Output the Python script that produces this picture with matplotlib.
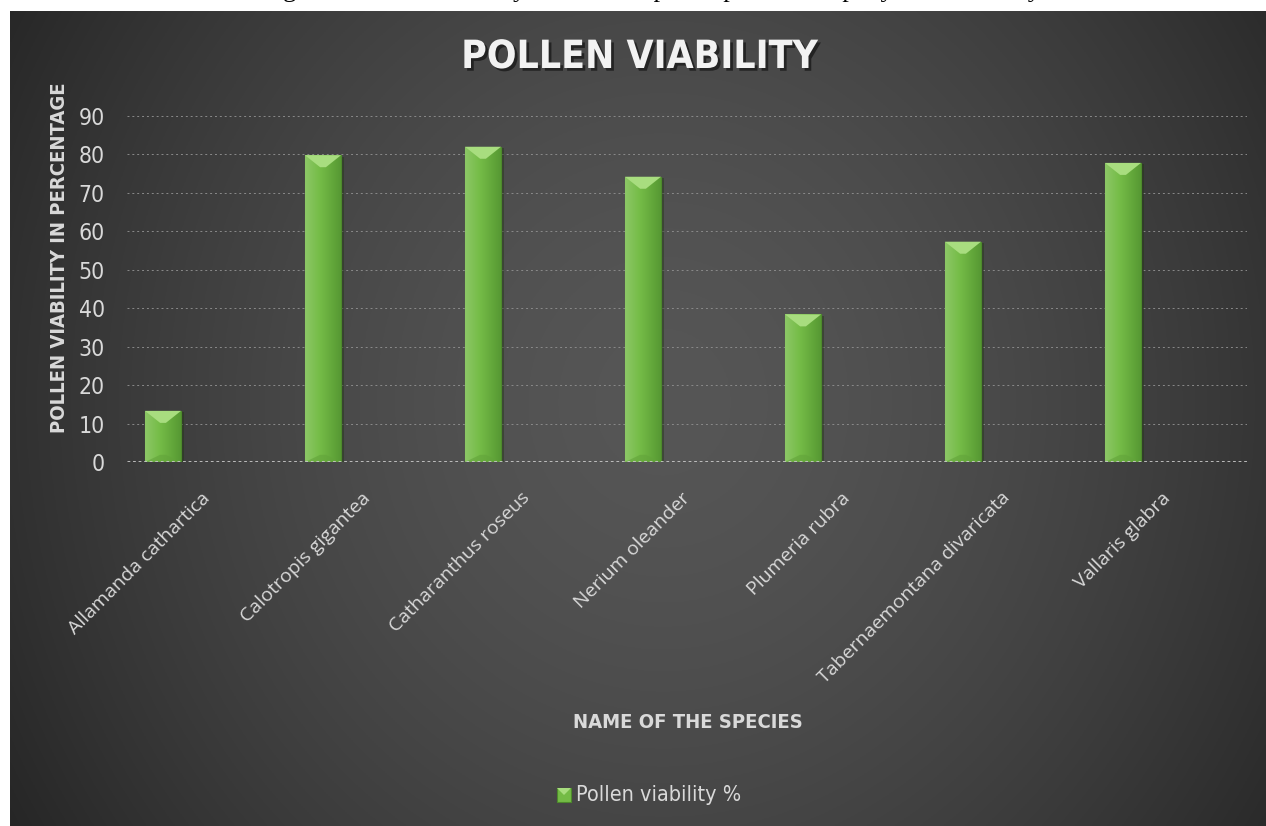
import matplotlib
matplotlib.use('Agg')
import matplotlib.pyplot as plt
import matplotlib.patheffects as pe
from matplotlib import font_manager
from matplotlib.transforms import ScaledTranslation
from matplotlib.patches import Polygon
import numpy as np

species = ['Allamanda cathartica', 'Calotropis gigantea', 'Catharanthus roseus',
           'Nerium oleander', 'Plumeria rubra', 'Tabernaemontana divaricata',
           'Vallaris glabra']
viability = [13.3, 79.8, 82.0, 74.2, 38.4, 57.3, 77.8]
yticks = [0, 10, 20, 30, 40, 50, 60, 70, 80, 90]

title = 'POLLEN VIABILITY'
ylabel = 'POLLEN VIABILITY IN PERCENTAGE'
xlabel = 'NAME OF THE SPECIES'
legend_label = 'Pollen viability %'
caption = 'Figure 2: Pollen viability of selected plant species of Apocynaceae family'

names = {f.name for f in font_manager.fontManager.ttflist}
narrow = 'Liberation Sans Narrow' if 'Liberation Sans Narrow' in names else 'DejaVu Sans'
stretch = 'normal' if narrow == 'Liberation Sans Narrow' else 'condensed'
label_grey = '#d9d9d9'

fig = plt.figure(figsize=(12.66, 8.26), dpi=100, facecolor='white')

# dark panel with radial-ish gradient
bg = fig.add_axes([10 / 1266, 0, 1 - 10 / 1266, 1 - 11 / 826])
bg.set_axis_off()
gx, gy = np.meshgrid(np.linspace(0, 1, 600), np.linspace(0, 1, 400))
d = np.sqrt(((gx - 0.52) / 0.6) ** 2 + ((gy - 0.52) / 1.0) ** 2)
v = np.clip(0x56 - (0x56 - 0x27) * d ** 1.6, 0x25, 0x56) / 255.0
bg.imshow(np.dstack([v, v, v]), extent=[0, 1, 0, 1], aspect='auto', origin='lower')
bg.set_xlim(0, 1)
bg.set_ylim(0, 1)

ax = fig.add_axes([127 / 1266, 1 - 462 / 826, 1120 / 1266, 346 / 826])
ax.patch.set_alpha(0)
for s in ax.spines.values():
    s.set_visible(False)

x = np.arange(len(species))
bars = ax.bar(x, viability, width=0.225, color='#74bb46', edgecolor='#4d8a2b', linewidth=0.8,
              zorder=3, path_effects=[pe.SimplePatchShadow(offset=(2, -1), alpha=0.45), pe.Normal()])

ax.set_xlim(-0.225, 6.775)
ax.set_ylim(0, 90)
ax.set_yticks(yticks)
ax.yaxis.grid(True, color='#8a8a8a', linestyle=(0, (2, 3)), linewidth=0.7, zorder=0)
ax.set_axisbelow(True)
ax.axhline(0, color='#c8c8c8', linestyle=(0, (1, 1)), linewidth=2, zorder=4)

# gradient fill + top bevel per bar
px_per_unit = ax.transData.transform((0, 1))[1] - ax.transData.transform((0, 0))[1]
grad = np.linspace(0, 1, 50)
left = np.array([0.55, 0.78, 0.40])
mid = np.array([0.46, 0.74, 0.28])
right = np.array([0.34, 0.60, 0.20])
cols = np.where(grad[:, None] < 0.4,
                left + (mid - left) * (grad[:, None] / 0.4),
                mid + (right - mid) * ((grad[:, None] - 0.4) / 0.6))
img = np.repeat(cols[None, :, :], 2, axis=0)
for b in bars:
    bx, bw, bh = b.get_x(), b.get_width(), b.get_height()
    im = ax.imshow(img, extent=[bx, bx + bw, 0, bh], aspect='auto', zorder=3.5, origin='lower')
    im.set_clip_path(b)
    depth = 12 / px_per_unit
    ins = bw * 0.42
    ax.add_patch(Polygon([[bx, bh], [bx + bw, bh], [bx + bw - ins, bh - depth], [bx + ins, bh - depth]],
                         closed=True, facecolor='#a8dd7f', edgecolor='none', zorder=3.6))
    ax.add_patch(Polygon([[bx, 0], [bx + bw, 0], [bx + bw - ins, depth * 0.6], [bx + ins, depth * 0.6]],
                         closed=True, facecolor='#62a33a', edgecolor='none', alpha=0.6, zorder=3.6))

ax.tick_params(axis='both', length=0)
ax.tick_params(axis='y', pad=16, labelcolor=label_grey)
for t in ax.get_yticklabels():
    t.set_fontfamily(narrow)
    t.set_fontstretch(stretch)
    t.set_fontsize(16.5)

ax.set_xticks(x)
ax.set_xticklabels(species, rotation=45, ha='right', va='top', rotation_mode='anchor',
                   fontfamily='Open Sans', fontsize=14, color=label_grey)
off = ScaledTranslation(38 / 100, -22 / 100, fig.dpi_scale_trans)
for t in ax.get_xticklabels():
    t.set_transform(t.get_transform() + off)

fig.text(640 / 1266, 1 - 57 / 826, title, ha='center', va='center', fontfamily=narrow,
         fontstretch=stretch, fontweight='bold', fontsize=28, color='#f2f2f2',
         path_effects=[pe.withSimplePatchShadow(offset=(2, -2), shadow_rgbFace='black', alpha=0.5)])
fig.text(60 / 1266, 1 - 258 / 826, ylabel, rotation=90, ha='center', va='center', fontfamily=narrow,
         fontstretch=stretch, fontweight='bold', fontsize=14.5, color=label_grey)
fig.text(688 / 1266, 1 - 723 / 826, xlabel, ha='center', va='center', fontfamily=narrow,
         fontstretch=stretch, fontweight='bold', fontsize=14.5, color=label_grey)

# legend
ly = 1 - 795 / 826
fig.patches.append(plt.Rectangle((557 / 1266, ly - 7 / 826), 14 / 1266, 14 / 826, transform=fig.transFigure,
                                 facecolor='#74bb46', edgecolor='#4d8a2b', linewidth=0.8))
fig.patches.append(Polygon([[557 / 1266, ly + 7 / 826], [571 / 1266, ly + 7 / 826], [564 / 1266, ly]],
                           closed=True, transform=fig.transFigure, facecolor='#a8dd7f', edgecolor='none'))
fig.text(576 / 1266, ly, legend_label, ha='left', va='center', fontfamily=narrow, fontstretch=stretch,
         fontsize=15.5, color=label_grey)

# caption, cut off at the top edge as in the source image
fig.text(651 / 1266, 1 + 2.5 / 826, caption, ha='center', va='baseline', fontfamily='Liberation Serif',
         fontsize=19, color='black')

fig.savefig('out.png', dpi=100, facecolor='white')
